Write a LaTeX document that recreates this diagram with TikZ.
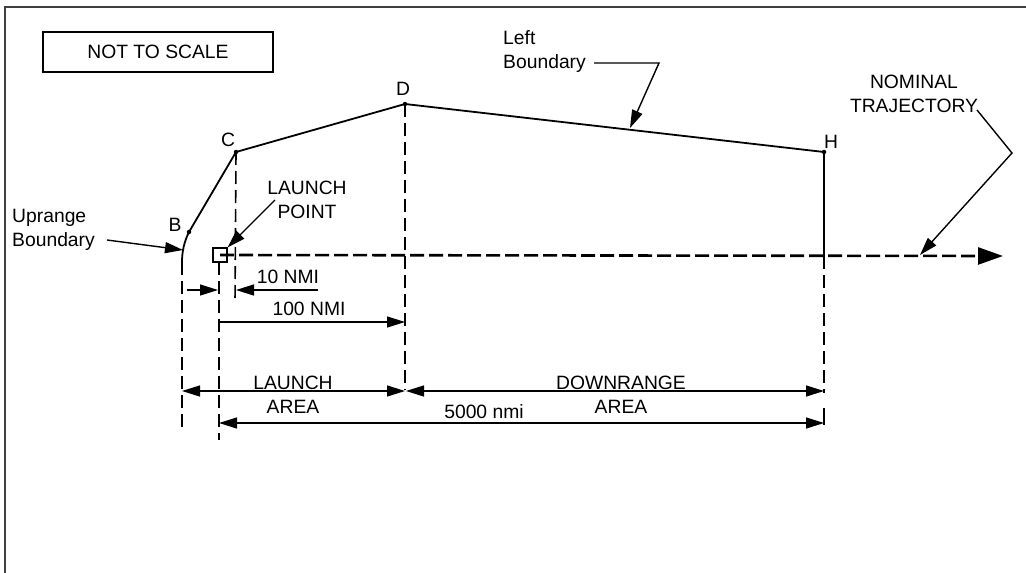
\documentclass[tikz,border=0pt]{standalone}
\usepackage{fontspec}
\setmainfont{Liberation Sans}
\usetikzlibrary{arrows.meta}
\begin{document}
\begin{tikzpicture}[x=1pt,y=-1pt,
  font=\fontsize{19.3}{24}\selectfont,
  lbl/.style={inner sep=0pt},
  bline/.style={line width=1.8pt},
  dline/.style={line width=1.6pt, dash pattern=on 13pt off 6pt},
  lead/.style={line width=1.4pt},
  tri/.style={-{Triangle[length=18pt,width=11pt]}},
  dtri/.style={{Triangle[length=18pt,width=11pt]}-{Triangle[length=18pt,width=11pt]}},
  dot/.style={circle, fill, inner sep=0pt, minimum size=4.5pt}]
\useasboundingbox (0,0) rectangle (1026,573);
% frame
\draw[line width=1.8pt, black!75] (5,573) -- (5,7) -- (1026,7);
\node[draw, line width=1.4pt, minimum width=230pt, minimum height=40pt] (nts) at (158,52) {NOT TO SCALE};
% boundary points
\node[dot] (B) at (189,232) {};
\node[dot] (C) at (236,152) {};
\node[dot] (D) at (405,104) {};
\node[dot] (H) at (824,152) {};
\coordinate (Hb) at (824,256);
\coordinate (Bb) at (182,262);
\draw[bline] (B.center) -- (C.center) -- (D.center) -- (H.center) -- (Hb);
\draw[bline] (B.center) .. controls (184,242) and (182,252) .. (Bb);
\node[lbl] (lB) at (175,225) {B};
\node[lbl] (lC) at (228,140) {C};
\node[lbl] (lD) at (403,89) {D};
\node[lbl] (lH) at (831,142) {H};
% launch point and trajectory
\node[draw, line width=1.1pt, minimum size=14pt, inner sep=0pt] (lp) at (220,255) {};
\coordinate (trajEnd) at (1003,256);
\draw[line width=2.6pt, dash pattern=on 14pt off 5pt, -{Triangle[length=25pt,width=17pt]}] (lp.center) -- (trajEnd);
% vertical dashed lines
\coordinate (v1t) at (182,262); \coordinate (v1b) at (182,430);
\coordinate (v2t) at (219,262); \coordinate (v2b) at (219,440);
\coordinate (v3b) at (235,303);
\coordinate (v4b) at (405,390);
\coordinate (v5b) at (824,393);
\draw[dline] (v1t) -- (v1b);
\draw[dline] (v2t) -- (v2b);
\draw[dline] (C.center) -- (v3b);
\draw[dline] (D.center) -- (v4b);
\draw[dline] (Hb) -- (v5b);
\draw[line width=1.6pt] (824,408) -- (824,425);
% 10 NMI
\coordinate (a1s) at (187,290); \coordinate (a1e) at (218,290);
\coordinate (a2s) at (318,290); \coordinate (a2e) at (236,290);
\draw[lead, tri] (a1s) -- (a1e);
\draw[lead, tri] (a2s) -- (a2e);
\node[lbl] (t10) at (288,277) {10 NMI};
% 100 NMI
\coordinate (a3s) at (219,322); \coordinate (a3e) at (405,322);
\draw[lead, tri] (a3s) -- (a3e);
\node[lbl] (t100) at (309,309) {100 NMI};
% launch area / downrange area
\coordinate (la1) at (182,391); \coordinate (la2) at (405,391);
\coordinate (da1) at (406,391); \coordinate (da2) at (824,391);
\draw[lead, dtri] (la1) -- (la2);
\draw[lead, dtri] (da1) -- (da2);
\node[lbl, align=center] (tla) at (293,395) {LAUNCH\\AREA};
\node[lbl, align=center] (tda) at (621,395) {DOWNRANGE\\AREA};
% 5000 nmi
\coordinate (f1) at (219,423); \coordinate (f2) at (824,423);
\draw[lead, dtri] (f1) -- (f2);
\node[lbl] (t5000) at (484,412) {5000 nmi};
% Uprange boundary label
\node[lbl, align=left, anchor=west] (up) at (12,230) {Uprange\\Boundary};
\coordinate (upS) at (107,240); \coordinate (upE) at (183,250);
\draw[lead, tri] (upS) -- (upE);
% launch point label
\node[lbl, align=center] (tlp) at (307,200) {LAUNCH\\POINT};
\coordinate (lpS) at (275,200);
\draw[lead, tri] (lpS) -- (lp.north east);
% left boundary label
\node[lbl, align=left, anchor=west] (lb) at (503,52) {Left\\Boundary};
\coordinate (lbS) at (594,63); \coordinate (lbK) at (659,63); \coordinate (lbE) at (630,128);
\draw[lead, tri] (lbS) -- (lbK) -- (lbE);
% nominal trajectory label
\node[lbl, align=center] (nt) at (914,94) {NOMINAL\\TRAJECTORY};
\coordinate (ntS) at (977,110); \coordinate (ntK) at (1012,153); \coordinate (ntE) at (920,255);
\draw[lead, tri] (ntS) -- (ntK) -- (ntE);
\end{tikzpicture}
\end{document}
